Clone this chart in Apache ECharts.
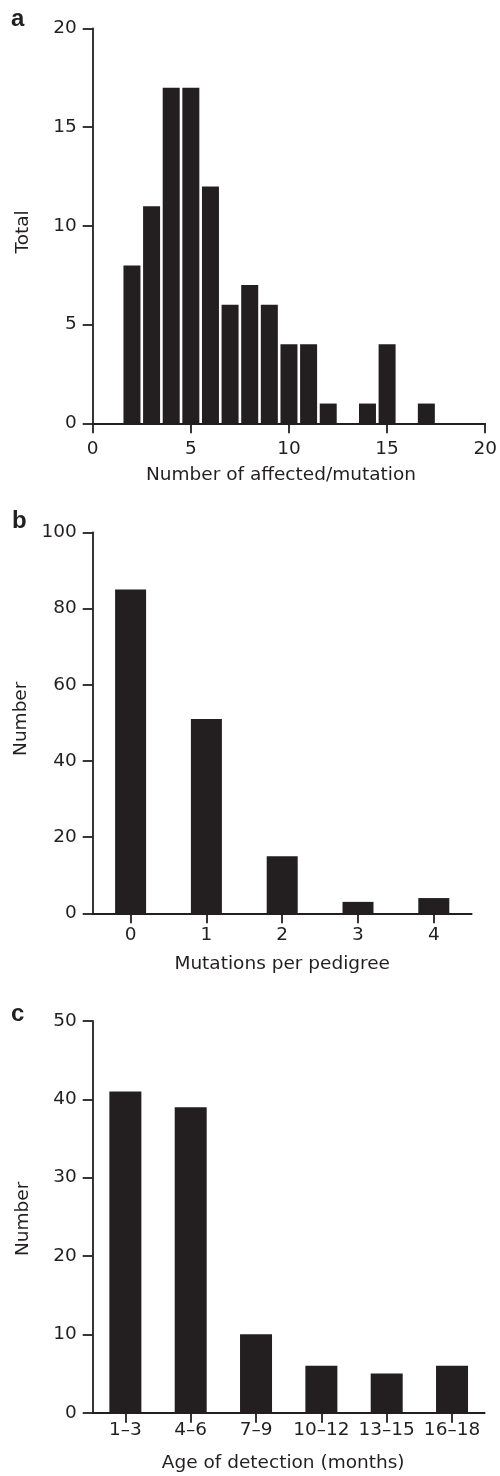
<!DOCTYPE html>
<html>
<head>
<meta charset="utf-8">
<script src="https://cdn.jsdelivr.net/npm/echarts@6/dist/echarts.min.js"></script>
<style>
html,body{margin:0;padding:0;background:#fff;}
#chart{width:500px;height:1476px;}
</style>
</head>
<body>
<div id="chart"></div>
<script>
// Panel a: number of affected per mutation (histogram)
var affectedX = [2, 3, 4, 5, 6, 7, 8, 9, 10, 11, 12, 13, 14, 15, 16, 17];
var affectedTotal = [8, 11, 17, 17, 12, 6, 7, 6, 4, 4, 1, 0, 1, 4, 0, 1];
// Panel b: mutations per pedigree
var pedigreeCats = ['0', '1', '2', '3', '4'];
var pedigreeNumber = [85, 51, 15, 3, 4];
// Panel c: age of detection
var ageCats = ['1\u20133', '4\u20136', '7\u20139', '10\u201312', '13\u201315', '16\u201318'];
var ageNumber = [41, 39, 10, 6, 5, 6];

var INK = '#231f20';
var FONT = '"DejaVu Sans", "Liberation Sans", Arial, sans-serif';
var FS = 18.5;

function axisLineStyle() { return { show: true, lineStyle: { color: INK, width: 1.8 } }; }
function tickStyle() { return { show: true, inside: false, length: 10, lineStyle: { color: INK, width: 1.8 } }; }
function labelStyle(margin) { return { color: INK, fontSize: FS, fontFamily: FONT, margin: margin }; }
function nameStyle(pad) { return { color: INK, fontSize: FS, fontFamily: FONT, padding: pad || 0 }; }

var chart = echarts.init(document.getElementById('chart'), null, { renderer: 'canvas' });

var option = {
  animation: false,
  backgroundColor: '#ffffff',
  textStyle: { fontFamily: FONT },
  grid: [
    { left: 92.7, top: 28.5, width: 395.3, height: 394.8, containLabel: false },
    { left: 92.7, top: 532.3, width: 379, height: 381, containLabel: false },
    { left: 92.7, top: 1021, width: 392, height: 391.7, containLabel: false }
  ],
  xAxis: [
    {
      gridIndex: 0, type: 'value', min: 0, max: 20, interval: 5,
      name: 'Number of affected/mutation', nameLocation: 'middle', nameGap: 42,
      nameTextStyle: nameStyle([0, 16, 0, 0]),
      axisLine: axisLineStyle(), axisTick: tickStyle(), axisLabel: labelStyle(16),
      splitLine: { show: false }
    },
    {
      gridIndex: 1, type: 'category', data: pedigreeCats, boundaryGap: true,
      name: 'Mutations per pedigree', nameLocation: 'middle', nameGap: 41,
      nameTextStyle: nameStyle(),
      axisLine: axisLineStyle(), axisTick: Object.assign(tickStyle(), { alignWithLabel: true }),
      axisLabel: labelStyle(12), splitLine: { show: false }
    },
    {
      gridIndex: 2, type: 'category', data: ageCats, boundaryGap: true,
      name: 'Age of detection (months)', nameLocation: 'middle', nameGap: 41,
      nameTextStyle: nameStyle([0, 11, 0, 0]),
      axisLine: axisLineStyle(), axisTick: Object.assign(tickStyle(), { alignWithLabel: true }),
      axisLabel: Object.assign(labelStyle(8), { interval: 0 }), splitLine: { show: false }
    }
  ],
  yAxis: [
    {
      gridIndex: 0, type: 'value', min: 0, max: 20, interval: 5,
      name: 'Total', nameLocation: 'middle', nameGap: 60, nameRotate: 90,
      nameTextStyle: nameStyle([0, 12, 0, 0]),
      axisLine: axisLineStyle(), axisTick: tickStyle(), axisLabel: labelStyle(16),
      splitLine: { show: false }
    },
    {
      gridIndex: 1, type: 'value', min: 0, max: 100, interval: 20,
      name: 'Number', nameLocation: 'middle', nameGap: 60, nameRotate: 90,
      nameTextStyle: nameStyle([0, 0, 0, 8]),
      axisLine: axisLineStyle(), axisTick: tickStyle(), axisLabel: labelStyle(16),
      splitLine: { show: false }
    },
    {
      gridIndex: 2, type: 'value', min: 0, max: 50, interval: 10,
      name: 'Number', nameLocation: 'middle', nameGap: 60, nameRotate: 90,
      nameTextStyle: nameStyle([0, 4, 0, 0]),
      axisLine: axisLineStyle(), axisTick: tickStyle(), axisLabel: labelStyle(16),
      splitLine: { show: false }
    }
  ],
  series: [
    {
      type: 'bar', xAxisIndex: 0, yAxisIndex: 0, barWidth: 17,
      data: affectedX.map(function (x, i) { return [x, affectedTotal[i]]; }),
      itemStyle: { color: INK }
    },
    {
      type: 'bar', xAxisIndex: 1, yAxisIndex: 1, barWidth: 31,
      data: pedigreeNumber, itemStyle: { color: INK }
    },
    {
      type: 'bar', xAxisIndex: 2, yAxisIndex: 2, barWidth: 32,
      data: ageNumber, itemStyle: { color: INK }
    }
  ],
  graphic: [
    { type: 'text', left: 11, top: 7, style: { text: 'a', font: 'bold 24px "Liberation Sans", Arial, sans-serif', fill: INK } },
    { type: 'text', left: 12, top: 509, style: { text: 'b', font: 'bold 24px "Liberation Sans", Arial, sans-serif', fill: INK } },
    { type: 'text', left: 11, top: 1002, style: { text: 'c', font: 'bold 24px "Liberation Sans", Arial, sans-serif', fill: INK } }
  ]
};

chart.setOption(option);
</script>
</body>
</html>
